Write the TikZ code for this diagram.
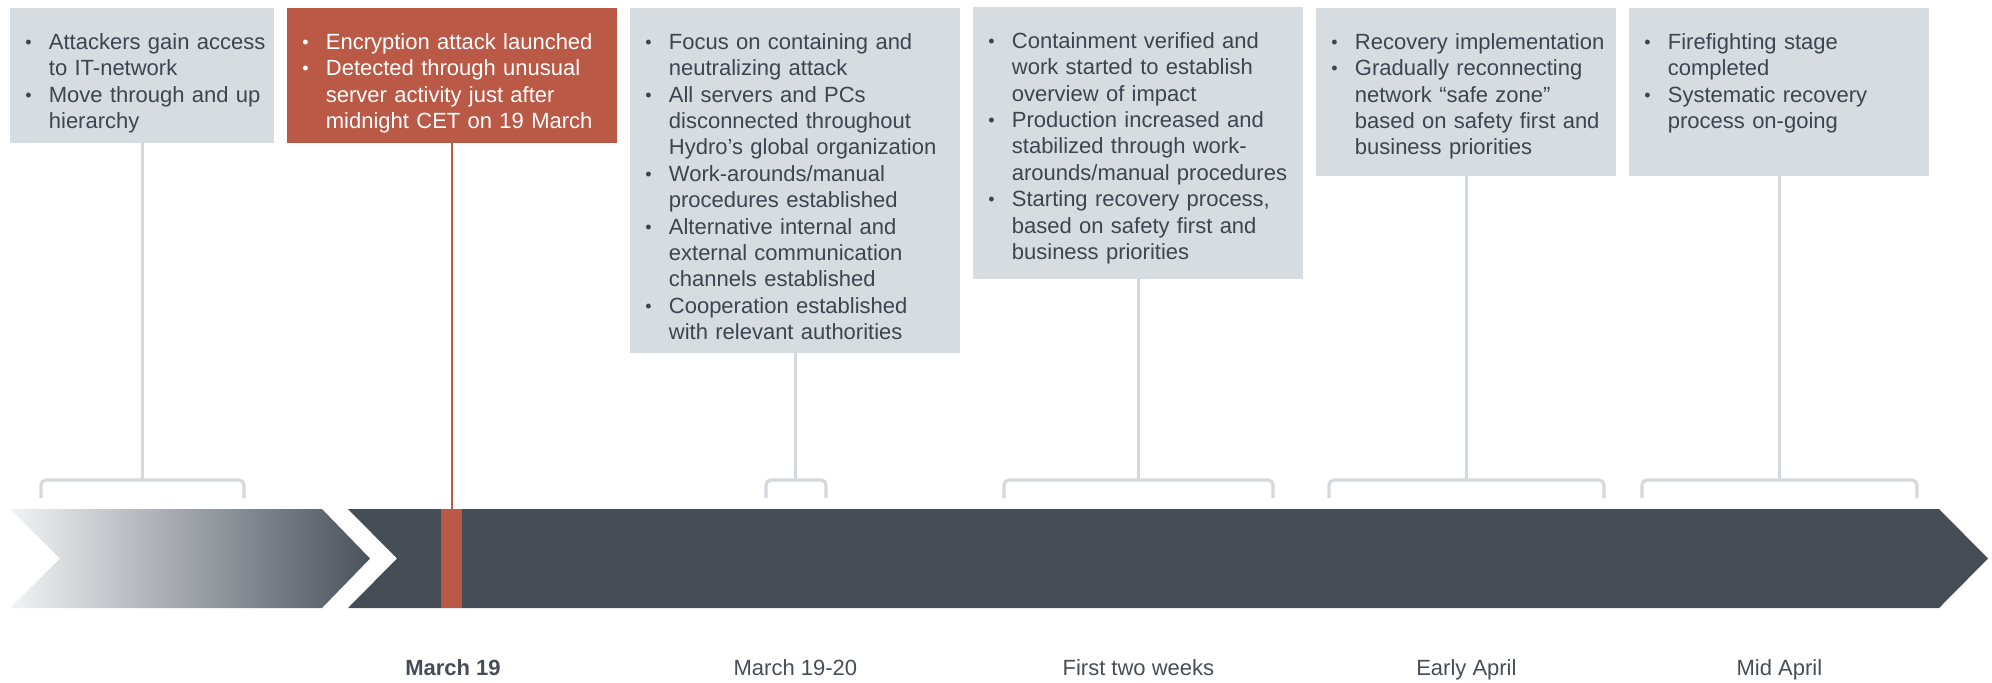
\documentclass[tikz,border=0pt]{standalone}
\usepackage{fontspec}
\setmainfont{Liberation Sans}
\definecolor{boxgray}{HTML}{D6DCDF}
\definecolor{linegray}{HTML}{D3D9DD}
\definecolor{redc}{HTML}{B95946}
\definecolor{darkc}{HTML}{464D57}
\definecolor{textc}{HTML}{3C4550}
\definecolor{gradl}{HTML}{F2F3F5}
\definecolor{gradm}{HTML}{A9B1B8}
\definecolor{gradr}{HTML}{4A525C}
\newcommand\bulglyph{{\fontsize{9pt}{9pt}\selectfont\raisebox{0.4pt}{•}}}
\newcommand\bitem[1]{\par\noindent\hangindent=11.75pt\hangafter=1\makebox[11.75pt][l]{\bulglyph}\strut#1\par}
\tikzset{
  gbox/.style={fill=boxgray, inner sep=0pt, anchor=north west},
  rbox/.style={fill=redc, inner sep=0pt, anchor=north west},
  txt/.style={inner sep=0pt, anchor=north west, align=left, text=textc,
    font=\fontsize{11pt}{13.2pt}\selectfont},
  wtxt/.style={txt, text=white},
  conn/.style={draw=linegray, line width=1.6pt},
  brk/.style={conn, rounded corners=2.5pt},
  redline/.style={draw=redc, line width=1.4pt},
  lbl/.style={anchor=base, text=darkc, font=\fontsize{11pt}{13.2pt}\selectfont}
}
\begin{document}
\begin{tikzpicture}[x=0.5pt,y=-0.5pt]
\useasboundingbox (0,0) rectangle (1992,682);

% boxes
\node[gbox, minimum width=132pt, minimum height=67.3pt] (b1) at (10,8) {};
\node[rbox, minimum width=165pt, minimum height=67.3pt] (b2) at (287,8) {};
\node[gbox, minimum width=165pt, minimum height=172.3pt] (b3) at (630,8) {};
\node[gbox, minimum width=165pt, minimum height=136pt] (b4) at (973,6.5) {};
\node[gbox, minimum width=150pt, minimum height=83.8pt] (b5) at (1316,8) {};
\node[gbox, minimum width=150pt, minimum height=83.8pt] (b6) at (1629,8) {};

% texts
\node[txt, text width=120pt] (t1) at (25,22.5) {%
\bitem{Attackers gain access\newline to IT-network}%
\bitem{Move through and up\newline hierarchy}};
\node[wtxt, text width=155pt] (t2) at (302,22.5) {%
\bitem{Encryption attack launched}%
\bitem{Detected through unusual\newline server activity just after\newline midnight CET on 19 March}};
\node[txt, text width=155pt] (t3) at (645,22.5) {%
\bitem{Focus on containing and\newline neutralizing attack}%
\bitem{All servers and PCs\newline disconnected throughout\newline Hydro’s global organization}%
\bitem{Work-arounds/manual\newline procedures established}%
\bitem{Alternative internal and\newline external communication\newline channels established}%
\bitem{Cooperation established\newline with relevant authorities}};
\node[txt, text width=155pt] (t4) at (988,21.5) {%
\bitem{Containment verified and\newline work started to establish\newline overview of impact}%
\bitem{Production increased and\newline stabilized through work-\newline arounds/manual procedures}%
\bitem{Starting recovery process,\newline based on safety first and\newline business priorities}};
\node[txt, text width=142pt] (t5) at (1331,22.5) {%
\bitem{Recovery implementation}%
\bitem{Gradually reconnecting\newline network “safe zone”\newline based on safety first and\newline business priorities}};
\node[txt, text width=142pt] (t6) at (1644,22.5) {%
\bitem{Firefighting stage\newline completed}%
\bitem{Systematic recovery\newline process on-going}};

% timeline
\shade[left color=gradl, middle color=gradm, right color=gradr]
  (10,509) -- (322,509) -- (370,558.5) -- (322,608) -- (10,608) -- (60,558.5) -- cycle;
\fill[darkc] (348,509) -- (1939,509) -- (1988,558.5) -- (1939,608) -- (348,608) -- (397,558.5) -- cycle;
\node[fill=redc, inner sep=0pt, minimum width=10.5pt, minimum height=49.5pt, anchor=north west] (rbar) at (441,509) {};

% connectors
\coordinate (k1) at (b1.south |- 0,480);
\coordinate (k3) at (b3.south |- 0,480);
\coordinate (k4) at (b4.south |- 0,480);
\coordinate (k5) at (b5.south |- 0,480);
\coordinate (k6) at (b6.south |- 0,480);
\draw[conn] (b1.south) -- (k1);
\draw[conn] (b3.south) -- (k3);
\draw[conn] (b4.south) -- (k4);
\draw[conn] (b5.south) -- (k5);
\draw[conn] (b6.south) -- (k6);
\draw[redline] (b2.south -| rbar.north) -- (rbar.north);

% brackets
\draw[brk] (41,498) -- (41,480) -- (244,480) -- (244,498);
\draw[brk] (766,498) -- (766,480) -- (826,480) -- (826,498);
\draw[brk] (1004,498) -- (1004,480) -- (1273,480) -- (1273,498);
\draw[brk] (1329,498) -- (1329,480) -- (1604,480) -- (1604,498);
\draw[brk] (1642,498) -- (1642,480) -- (1917,480) -- (1917,498);

% labels
\node[lbl] (l2) at (453,675) {\textbf{March 19}};
\node[lbl] (l3) at (b3.south |- 0,675) {March 19-20};
\node[lbl] (l4) at (b4.south |- 0,675) {First two weeks};
\node[lbl] (l5) at (b5.south |- 0,675) {Early April};
\node[lbl] (l6) at (b6.south |- 0,675) {Mid April};
\end{tikzpicture}
\end{document}
